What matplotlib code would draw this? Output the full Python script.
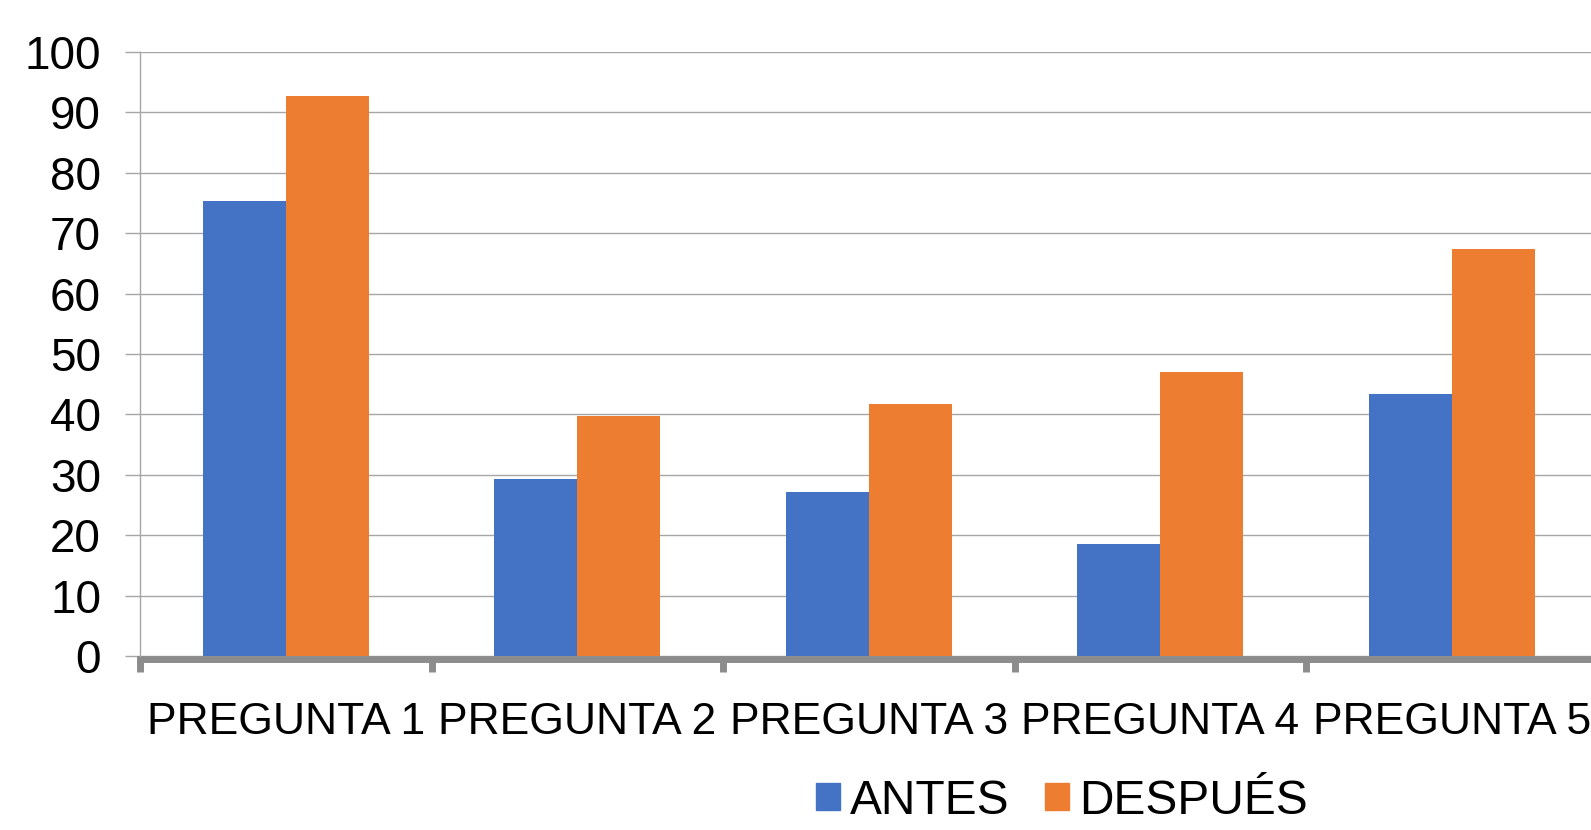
import numpy as np
import matplotlib
matplotlib.use('Agg')
import matplotlib.pyplot as plt
from matplotlib.patches import Patch

# Data
categories = ['PREGUNTA 1', 'PREGUNTA 2', 'PREGUNTA 3', 'PREGUNTA 4', 'PREGUNTA 5']
antes = [75.3, 29.3, 27.2, 18.5, 43.4]
despues = [92.7, 39.8, 41.8, 47.1, 67.4]
y_ticks = [0, 10, 20, 30, 40, 50, 60, 70, 80, 90, 100]

blue = '#4472C4'
orange = '#ED7D31'
grid_gray = '#a6a6a6'
axis_gray = '#8c8c8c'

plt.rcParams['font.family'] = ['Liberation Sans', 'DejaVu Sans']

fig = plt.figure(figsize=(15.91, 8.30), dpi=100)
# right edge of the axes falls just outside the image, as in the original
ax = fig.add_axes([140 / 1591, 1 - 656 / 830, 1457.5 / 1591, 604 / 830])

x = np.arange(len(categories))
w = 0.285
ax.bar(x - w / 2, antes, w, color=blue, zorder=3, label='ANTES')
ax.bar(x + w / 2, despues, w, color=orange, zorder=3, label='DESPUÉS')

ax.set_xlim(-0.5, len(categories) - 0.5)
ax.set_ylim(0, 100)
ax.set_yticks(y_ticks)
ax.yaxis.grid(True, color=grid_gray, linewidth=1.0, zorder=0)
ax.set_axisbelow(True)

# spines
for s in ['top', 'right']:
    ax.spines[s].set_visible(False)
ax.spines['left'].set_color(grid_gray)
ax.spines['left'].set_linewidth(1.0)
ax.spines['bottom'].set_color(axis_gray)
ax.spines['bottom'].set_linewidth(5.0)
ax.spines['bottom'].set_position(('outward', 2))
ax.spines['bottom'].set_zorder(2)

# y ticks
ax.tick_params(axis='y', direction='out', length=11, width=1.0, color=grid_gray,
               pad=17, labelsize=33)

# x ticks: labels at category centres, tick marks at boundaries
ax.set_xticks(x)
ax.set_xticklabels(categories)
ax.tick_params(axis='x', which='major', length=0, pad=31, labelsize=32)
ax.set_xticks(np.arange(len(categories) + 1) - 0.5, minor=True)
ax.tick_params(axis='x', which='minor', direction='out', length=9, width=5,
               color=axis_gray)

handles = [Patch(color=blue, label='ANTES'), Patch(color=orange, label='DESPUÉS')]
fig.legend(handles=handles, loc='center', bbox_to_anchor=(1062 / 1591, 1 - 801 / 830),
           ncol=2, frameon=False, fontsize=34.5, handlelength=0.5, handleheight=0.5,
           handletextpad=0.2, columnspacing=0.75, borderpad=0, borderaxespad=0)

fig.savefig('out.png', dpi=100)
